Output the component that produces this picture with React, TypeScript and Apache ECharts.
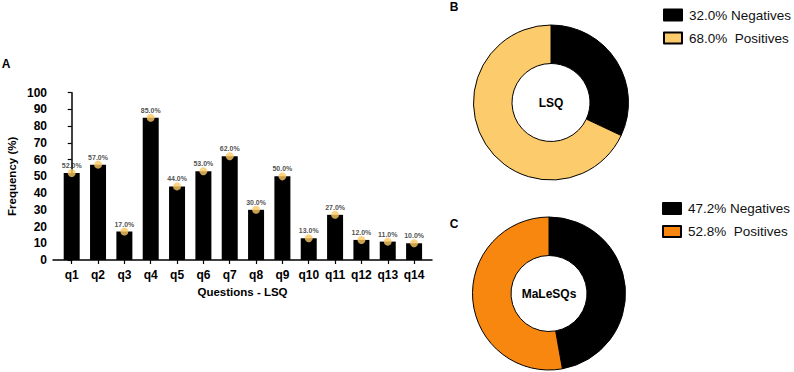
import React, { useEffect, useRef } from "react";
import * as echarts from "echarts";

// Panel A: per-question frequency (%)
const questions = ["q1", "q2", "q3", "q4", "q5", "q6", "q7", "q8", "q9", "q10", "q11", "q12", "q13", "q14"];
const frequencies = [52, 57, 17, 85, 44, 53, 62, 30, 50, 13, 27, 12, 11, 10];
const yTicks = [0, 10, 20, 30, 40, 50, 60, 70, 80, 90, 100];

// Panels B and C: share of negatives / positives
const lsqShares = [32.0, 68.0];
const malesqsShares = [47.2, 52.8];
const shareLabels = ["Negatives", " Positives"];

const FONT = "'Liberation Sans', Arial, Helvetica, sans-serif";

const toPieData = (shares: number[], colors: string[]) =>
  shares.map((v, i) => ({
    name: `${v.toFixed(1)}% ${shareLabels[i]}`,
    value: v,
    itemStyle: { color: colors[i] },
  }));

export default function App() {
  const ref = useRef<HTMLDivElement>(null);

  useEffect(() => {
    if (!ref.current) return;
    const chart = echarts.init(ref.current, undefined, { renderer: "svg" });

    const lsqData = toPieData(lsqShares, ["#000000", "#FCCB6B"]);
    const malData = toPieData(malesqsShares, ["#000000", "#F7870F"]);
    const idx = questions.map((_, i) => i);

    const pieCommon = {
      type: "pie" as const,
      startAngle: 90,
      clockwise: true,
      silent: true,
      label: { show: false },
      labelLine: { show: false },
      itemStyle: { borderColor: "#000", borderWidth: 1 },
      emphasis: { disabled: true },
    };

    const legendCommon = {
      orient: "vertical" as const,
      icon: "rect",
      itemWidth: 18,
      itemHeight: 11,
      itemGap: 6,
      selectedMode: false,
      textStyle: {
        fontFamily: FONT,
        fontSize: 13.5,
        lineHeight: 17,
        color: "#111",
        padding: [0, 0, 0, 2],
      },
    };

    chart.setOption({
      animation: false,
      textStyle: { fontFamily: FONT },
      grid: { left: 53, top: 92.7, width: 379, height: 167.3 },
      xAxis: {
        type: "value",
        min: -0.71,
        max: 13.68,
        name: "Questions - LSQ",
        nameLocation: "middle",
        nameGap: 26,
        nameTextStyle: { fontFamily: FONT, fontSize: 11.5, fontWeight: "bold", color: "#000" },
        axisLine: { show: true, lineStyle: { color: "#000", width: 1.5 } },
        axisTick: { show: true, length: 4, customValues: idx, lineStyle: { color: "#000", width: 1.2 } },
        axisLabel: {
          customValues: idx,
          formatter: (v: number) => questions[Math.round(v)] ?? "",
          fontFamily: FONT,
          fontSize: 12,
          fontWeight: "bold",
          color: "#000",
          margin: 9,
        },
        splitLine: { show: false },
      },
      yAxis: {
        type: "value",
        min: 0,
        max: 100,
        interval: 10,
        name: "Frequency (%)",
        nameLocation: "middle",
        nameGap: 35,
        nameTextStyle: { fontFamily: FONT, fontSize: 11.5, fontWeight: "bold", color: "#000" },
        axisLine: { show: true, lineStyle: { color: "#000", width: 1.5 } },
        axisTick: { show: true, length: 4, lineStyle: { color: "#000", width: 1.2 } },
        axisLabel: {
          customValues: yTicks,
          fontFamily: FONT,
          fontSize: 12,
          fontWeight: "bold",
          color: "#000",
          margin: 6,
        },
        splitLine: { show: false },
      },
      legend: [
        { ...legendCommon, data: lsqData.map((d) => d.name), left: 658, top: 1.5 },
        { ...legendCommon, data: malData.map((d) => d.name), left: 657, top: 195 },
      ],
      series: [
        {
          type: "bar",
          data: frequencies.map((v, i) => [i, v]),
          barWidth: 16,
          itemStyle: { color: "#000" },
          silent: true,
        },
        {
          type: "scatter",
          data: frequencies.map((v, i) => [i, v]),
          symbolSize: 8,
          itemStyle: { color: "#FAC862" },
          silent: true,
          label: {
            show: true,
            position: "top",
            distance: 0,
            formatter: (p: any) => `${p.value[1].toFixed(1)}%`,
            fontFamily: FONT,
            fontSize: 7,
            fontWeight: "bold",
            color: "#222",
          },
        },
        { ...pieCommon, center: [551, 102.5], radius: [39, 77.5], data: lsqData },
        { ...pieCommon, center: [549, 293.5], radius: [38, 76.5], data: malData },
      ],
      graphic: [
        { type: "text", x: 6, y: 64, style: { text: "A", font: `bold 12px ${FONT}`, fill: "#000", align: "center", verticalAlign: "middle" } },
        { type: "text", x: 454, y: 6.5, style: { text: "B", font: `bold 12px ${FONT}`, fill: "#000", align: "center", verticalAlign: "middle" } },
        { type: "text", x: 454, y: 224, style: { text: "C", font: `bold 12px ${FONT}`, fill: "#000", align: "center", verticalAlign: "middle" } },
        { type: "text", x: 551, y: 102.5, style: { text: "LSQ", font: `bold 12px ${FONT}`, fill: "#000", align: "center", verticalAlign: "middle" } },
        { type: "text", x: 549, y: 293.5, style: { text: "MaLeSQs", font: `bold 12px ${FONT}`, fill: "#000", align: "center", verticalAlign: "middle" } },
      ],
    });

    return () => chart.dispose();
  }, []);

  return (
    <div
      ref={ref}
      style={{ position: "fixed", left: 0, top: 0, width: 794, height: 372, background: "#fff" }}
    />
  );
}
